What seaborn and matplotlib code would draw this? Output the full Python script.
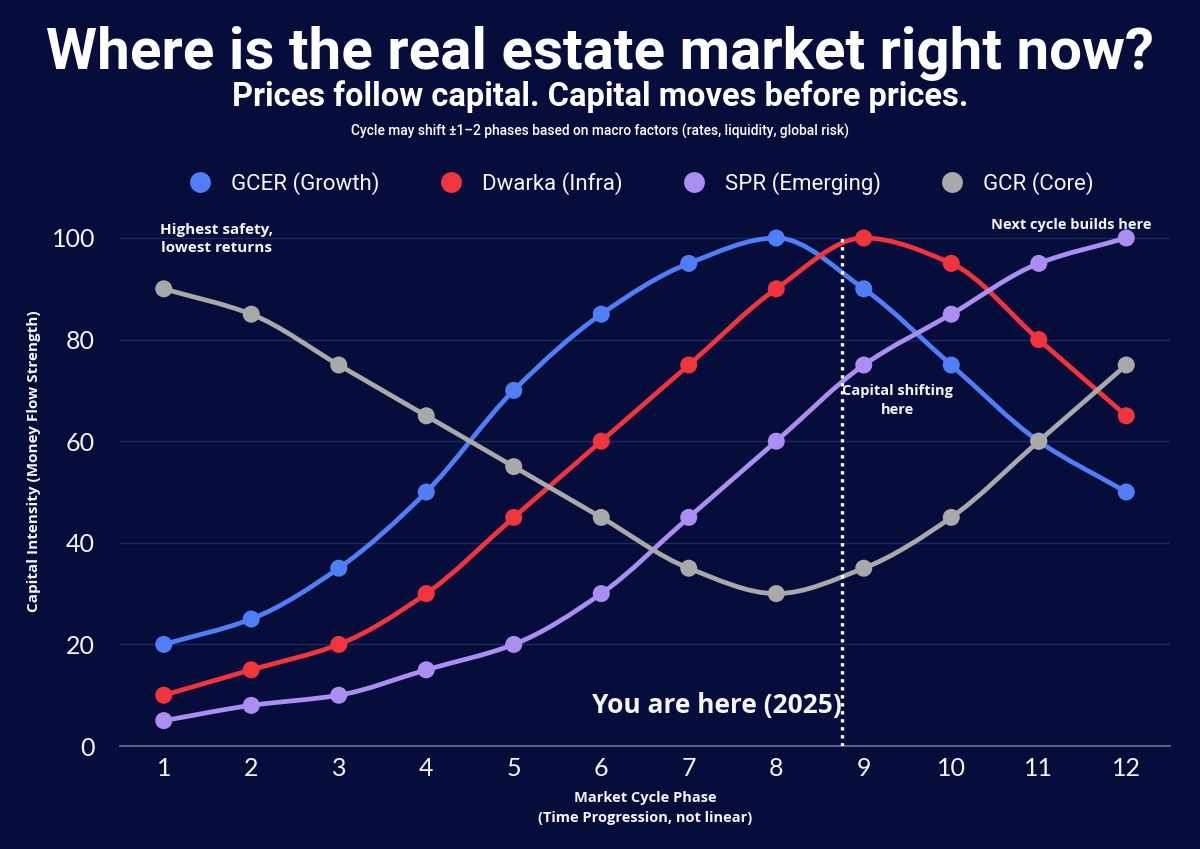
import numpy as np
import pandas as pd
import matplotlib
matplotlib.use("Agg")
import matplotlib.pyplot as plt
from matplotlib.path import Path
from matplotlib.patches import PathPatch
import seaborn as sns

phases = list(range(1, 13))
series_names = ["GCER (Growth)", "Dwarka (Infra)", "SPR (Emerging)", "GCR (Core)"]
gcer = [20, 25, 35, 50, 70, 85, 95, 100, 90, 75, 60, 50]
dwarka = [10, 15, 20, 30, 45, 60, 75, 90, 100, 95, 80, 65]
spr = [5, 8, 10, 15, 20, 30, 45, 60, 75, 85, 95, 100]
gcr = [90, 85, 75, 65, 55, 45, 35, 30, 35, 45, 60, 75]
colors = ["#4f7ef6", "#f2353c", "#ab8ef2", "#a9a9a9"]
you_are_here = 8.75

BG = "#060d3b"
TXT = "#f4f6fb"
COND = ["Roboto", "DejaVu Sans"]

sns.set_theme(style="dark")
plt.rcParams["font.family"] = ["Open Sans", "DejaVu Sans"]

df = pd.DataFrame({
    "phase": phases * 4,
    "value": gcer + dwarka + spr + gcr,
    "series": sum([[n] * 12 for n in series_names], []),
})

fig = plt.figure(figsize=(12, 8.49), dpi=100, facecolor=BG)
ax = fig.add_axes([0.1, 0.1213, 0.875, 0.6283])
ax.set_facecolor(BG)


def monotone_path(x, y):
    x = np.asarray(x, float)
    y = np.asarray(y, float)
    n = len(x)
    h = np.diff(x)
    d = np.diff(y) / h
    m = np.zeros(n)
    m[0], m[-1] = d[0], d[-1]
    for i in range(1, n - 1):
        if d[i - 1] * d[i] <= 0:
            m[i] = 0
        else:
            w1 = 2 * h[i] + h[i - 1]
            w2 = h[i] + 2 * h[i - 1]
            m[i] = (w1 + w2) / (w1 / d[i - 1] + w2 / d[i])
    verts = [(x[0], y[0])]
    codes = [Path.MOVETO]
    for i in range(n - 1):
        verts += [(x[i] + h[i] / 3, y[i] + m[i] * h[i] / 3),
                  (x[i + 1] - h[i] / 3, y[i + 1] - m[i + 1] * h[i] / 3),
                  (x[i + 1], y[i + 1])]
        codes += [Path.CURVE4] * 3
    return Path(verts, codes)


for name, vals, c in zip(series_names, [gcer, dwarka, spr, gcr], colors):
    ax.add_patch(PathPatch(monotone_path(phases, vals), facecolor="none",
                           edgecolor=c, lw=3.4, zorder=3, capstyle="round"))

sns.scatterplot(data=df, x="phase", y="value", hue="series", palette=colors,
                hue_order=series_names, s=150, edgecolor="none", zorder=4,
                ax=ax, legend=False)

ax.set_xlim(0.5, 12.5)
ax.set_ylim(0, 105)
ax.set_xticks(phases)
ax.set_yticks([0, 20, 40, 60, 80, 100])
for yv in [20, 40, 60, 80, 100]:
    ax.axhline(yv, color="#1f2960", lw=1, zorder=1)
for s in ["top", "right", "left"]:
    ax.spines[s].set_visible(False)
ax.spines["bottom"].set_color("#6a7396")
ax.spines["bottom"].set_linewidth(1.2)
ax.tick_params(axis="both", length=0, labelsize=18, colors=TXT)
ax.tick_params(axis="x", pad=8)
ax.tick_params(axis="y", pad=18)
for lab in ax.get_xticklabels() + ax.get_yticklabels():
    lab.set_family(["Lato", "DejaVu Sans"])
    lab.set_fontweight("normal")

ax.set_xlabel("Market Cycle Phase\n(Time Progression, not linear)", color=TXT,
              fontsize=10.5, fontweight="bold", labelpad=8, linespacing=1.5)
ax.set_ylabel("Capital Intensity (Money Flow Strength)", color=TXT,
              fontsize=11, fontweight="bold")
ax.yaxis.set_label_coords(-0.075, 0.534)

ax.axvline(you_are_here, ymin=0, ymax=100.5 / 105, color="white", lw=2.4,
           ls=(0, (1, 1.4)), zorder=5)
ax.text(7.32, 7.9, "You are here (2025)", color=TXT, fontsize=19,
        fontweight="bold", ha="center", va="center", zorder=6)
ax.text(1.6, 99.8, "Highest safety,\nlowest returns", color=TXT, fontsize=11,
        fontweight="bold", ha="center", va="center", linespacing=1.45)
ax.text(11.37, 102.5, "Next cycle builds here", color=TXT, fontsize=10.5,
        fontweight="bold", ha="center", va="center")
ax.text(9.39, 68, "Capital shifting\nhere", color=TXT, fontsize=10.5,
        fontweight="bold", ha="center", va="center", linespacing=1.5)

fig.text(0.5, 0.937, "Where is the real estate market right now?", color="white",
         fontsize=42, fontweight="bold", ha="center", va="center", family=COND)
fig.text(0.5, 0.886, "Prices follow capital. Capital moves before prices.",
         color="white", fontsize=23.5, fontweight="bold", ha="center",
         va="center", family=COND)
fig.text(0.5, 0.845, "Cycle may shift \u00b11\u20132 phases based on macro factors (rates, liquidity, global risk)",
         color="white", fontsize=9.9, fontweight="medium", ha="center", va="center", family=COND)

handles = [plt.Line2D([], [], marker="o", ls="none", markersize=15,
                      markerfacecolor=c, markeredgecolor="none") for c in colors]
leg = fig.legend(handles, series_names, loc="center", bbox_to_anchor=(0.53, 0.784),
                 ncol=4, frameon=False, handletextpad=0.4,
                 columnspacing=2.2, labelcolor=TXT,
                 prop={"family": COND, "size": 16})

fig.savefig("out.png", dpi=100, facecolor=BG)
